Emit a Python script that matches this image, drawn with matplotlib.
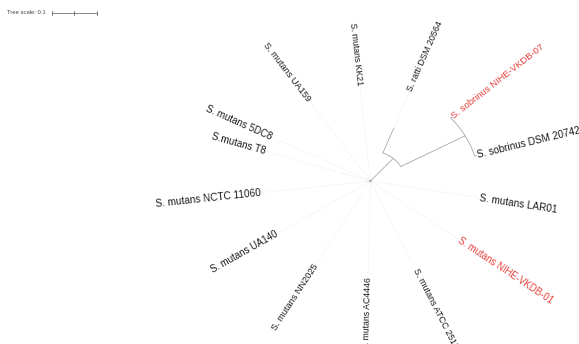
import numpy as np
import matplotlib
matplotlib.use("Agg")
import matplotlib.pyplot as plt

plt.rcParams['font.family'] = ['Liberation Sans', 'DejaVu Sans']

# ---- data -------------------------------------------------------------
leaf_names = ["S. sobrinus DSM 20742", "S. sobrinus NIHE-VKDB-07", "S. ratti DSM 20564",
              "S. mutans KK21", "S. mutans UA159", "S. mutans 5DC8", "S.mutans T8",
              "S. mutans NCTC 11060", "S. mutans UA140", "S. mutans NN2025",
              "S. mutans AC4446", "S. mutans ATCC 25175", "S. mutans NIHE-VKDB-01",
              "S. mutans LAR01"]
leaf_angles = [15.5, 42.0, 69.0, 95.5, 123.7, 153.0, 162.0, 187.0, 213.0, 240.4,
               268.7, 294.0, 322.7, 350.0]
leaf_parent = ["S", "S", "X", "root", "root", "root", "root", "root", "root", "root",
               "root", "root", "root", "root"]
leaf_length = [0.005, 0.005, 0.069, 0.003, 0.003, 0.003, 0.003, 0.003, 0.003, 0.003,
               0.003, 0.003, 0.003, 0.003]
highlight = ["S. sobrinus NIHE-VKDB-07", "S. mutans NIHE-VKDB-01"]

node_names = ["root", "X", "S"]
node_parent = [None, "root", "X"]
node_length = [0.0, 0.077, 0.164]

scale_value = 0.1

# ---- layout -----------------------------------------------------------
depth, angle = {}, {}
children = {n: [] for n in node_names}
for n, p in zip(node_names, node_parent):
    if p is not None:
        children[p].append(n)
for n, p in zip(leaf_names, leaf_parent):
    children[p].append(n)
par = dict(zip(node_names, node_parent))
par.update(dict(zip(leaf_names, leaf_parent)))
blen = dict(zip(node_names, node_length))
blen.update(dict(zip(leaf_names, leaf_length)))
angle.update(dict(zip(leaf_names, leaf_angles)))


def get_depth(n):
    if n not in depth:
        p = par[n]
        depth[n] = 0.0 if p is None else get_depth(p) + blen[n]
    return depth[n]


def get_angle(n):
    if n not in angle:
        angle[n] = float(np.mean([get_angle(c) for c in children[n]]))
    return angle[n]


for n in node_names + leaf_names:
    get_depth(n)
    get_angle(n)


def xy(r, a):
    t = np.deg2rad(a)
    return r * np.cos(t), r * np.sin(t)


W, H = 579, 344
fig = plt.figure(figsize=(W / 100, H / 100), dpi=100)
ax = fig.add_axes([0, 0, 1, 1])
cx, cy = 370.5, 181.0
sx, sy = 448.0, 390.0
k = sx / sy
ax.set_xlim(-cx / sx, (W - cx) / sx)
ax.set_ylim(-(H - cy) / sy, cy / sy)
ax.axis('off')

branch_col = '#a8a8a8'
max_depth = max(depth[n] for n in leaf_names)
r_lab = max_depth + 0.001

for n in node_names + leaf_names:
    p = par[n]
    if p is None:
        continue
    x0, y0 = xy(depth[p], angle[n])
    x1, y1 = xy(depth[n], angle[n])
    ax.plot([x0, x1], [y0, y1], color=branch_col, lw=0.6, solid_capstyle='butt')
for n in node_names:
    if n == "root":
        continue
    ch = [angle[c] for c in children[n]]
    aa = np.linspace(min(ch), max(ch), 60)
    x, y = xy(depth[n], aa)
    ax.plot(x, y, color=branch_col, lw=0.6)

base_pt = 6.3
for n in leaf_names:
    a = angle[n]
    d = depth[n]
    if r_lab - d > 0.003:
        x0, y0 = xy(d, a)
        x1, y1 = xy(r_lab, a)
        ax.plot([x0, x1], [y0, y1], color='#e4e4e4', lw=0.5, ls=(0, (1, 1.5)))
    lx, ly = xy(r_lab, a)
    col = '#e8413c' if n in highlight else '#1a1a1a'
    t = np.deg2rad(a)
    scr = np.degrees(np.arctan2(np.sin(t), k * np.cos(t))) % 360
    fs = base_pt * np.hypot(k * np.cos(t), np.sin(t))
    if 90 < scr < 270:
        rot, ha = scr - 180, 'right'
    else:
        rot, ha = scr, 'left'
    ax.text(lx, ly, n, rotation=rot, ha=ha, va='center', rotation_mode='anchor',
            fontsize=fs, color=col)

x0 = -cx / sx + 52 / sx
yb = cy / sy - 13 / sy
ax.plot([x0, x0 + scale_value], [yb, yb], color='#555555', lw=0.5)
for xt in [x0, x0 + scale_value / 2, x0 + scale_value]:
    ax.plot([xt, xt], [yb - 2 / sy, yb + 2 / sy], color='#555555', lw=0.5)
ax.text(-cx / sx + 7 / sx, yb, "Tree scale: 0.1", fontsize=4.2, color='#444444',
        ha='left', va='center')

fig.savefig("out.png", dpi=100)
